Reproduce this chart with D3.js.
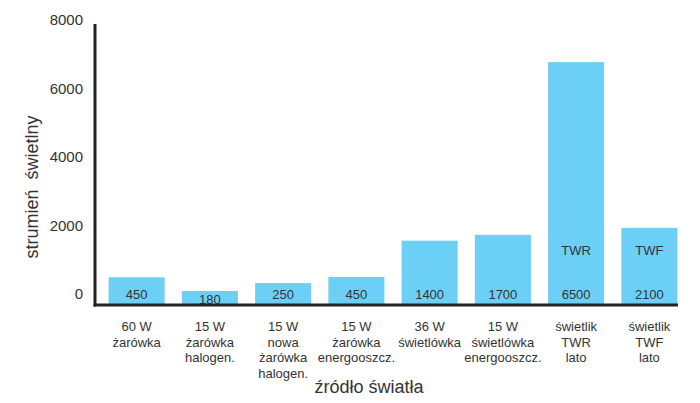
<!DOCTYPE html>
<html lang="pl">
<head>
<meta charset="utf-8">
<title>Strumień świetlny</title>
<style>
  body { margin: 0; background: #fff; }
  text { font-family: "Liberation Sans", Arial, sans-serif; fill: #333; }
  .tick text { font-size: 15px; }
  .axis-title { font-size: 18px; text-anchor: middle; }
  .cat { font-size: 13px; text-anchor: middle; }
  .val { font-size: 13px; text-anchor: middle; }
  .bar { fill: #6ccff6; }
</style>
</head>
<body>
<div id="chart"></div>
<script src="https://cdn.jsdelivr.net/npm/d3@7"></script>
<script>
// categories (multi-line labels)
var categories = [
  ["60 W", "żarówka"],
  ["15 W", "żarówka", "halogen."],
  ["15 W", "nowa", "żarówka", "halogen."],
  ["15 W", "żarówka", "energooszcz."],
  ["36 W", "świetlówka"],
  ["15 W", "świetlówka", "energooszcz."],
  ["świetlik", "TWR", "lato"],
  ["świetlik", "TWF", "lato"]
];
// bar heights as drawn in the picture
var barValues = [480, 80, 310, 490, 1550, 1720, 6770, 1925];
// numbers printed inside the bars
var valueLabels = ["450", "180", "250", "450", "1400", "1700", "6500", "2100"];
// extra names printed in the tall bars
var nameLabels = ["", "", "", "", "", "", "TWR", "TWF"];
var yTicks = [0, 2000, 4000, 6000, 8000];

var width = 700, height = 403;

var svg = d3.select("#chart").append("svg")
    .attr("width", width)
    .attr("height", height);

var x = d3.scaleBand()
    .domain(d3.range(categories.length))
    .range([100, 686])
    .paddingInner(0.235)
    .paddingOuter(0.1175);

var y = d3.scaleLinear()
    .domain([-330, 8000])
    .range([305, 20]);

// bars
svg.selectAll("rect.bar")
    .data(barValues)
    .enter()
    .append("rect")
    .attr("class", "bar")
    .attr("x", function(d, i) { return x(i); })
    .attr("width", x.bandwidth())
    .attr("y", function(d) { return y(d); })
    .attr("height", function(d) { return y(-330) - y(d); });

// value labels
svg.selectAll("text.val")
    .data(valueLabels)
    .enter()
    .append("text")
    .attr("class", "val")
    .attr("x", function(d, i) { return x(i) + x.bandwidth() / 2; })
    .attr("y", function(d, i) { return i === 1 ? y(0) + 10 : y(0) + 5; })
    .text(function(d) { return d; });

svg.selectAll("text.name")
    .data(nameLabels)
    .enter()
    .append("text")
    .attr("class", "val")
    .attr("x", function(d, i) { return x(i) + x.bandwidth() / 2; })
    .attr("y", y(0) - 39)
    .text(function(d) { return d; });

// y axis
var yAxis = d3.axisLeft(y).tickValues(yTicks).tickFormat(d3.format("d"))
    .tickSize(0).tickPadding(12);
var gy = svg.append("g")
    .attr("transform", "translate(95,0)")
    .call(yAxis);
gy.select(".domain").remove();

// axis lines
svg.append("line")
    .attr("x1", 95).attr("x2", 95)
    .attr("y1", y(7880)).attr("y2", y(-330) + 1.5)
    .style("stroke", "#222").style("stroke-width", 3);

svg.append("line")
    .attr("x1", 93.5).attr("x2", 678)
    .attr("y1", y(-330)).attr("y2", y(-330))
    .style("stroke", "#222").style("stroke-width", 3);

// category labels
var cats = svg.selectAll("text.cat")
    .data(categories)
    .enter()
    .append("text")
    .attr("class", "cat")
    .attr("y", 331);

cats.selectAll("tspan")
    .data(function(d, i) { return d.map(function(s) { return {s: s, i: i}; }); })
    .enter()
    .append("tspan")
    .attr("x", function(d) { return x(d.i) + x.bandwidth() / 2; })
    .attr("dy", function(d, j) { return j === 0 ? 0 : 15.5; })
    .text(function(d) { return d.s; });

// axis titles
svg.append("text")
    .attr("class", "axis-title")
    .attr("x", 369)
    .attr("y", 393)
    .text("źródło światła");

svg.append("text")
    .attr("class", "axis-title")
    .attr("transform", "rotate(-90)")
    .attr("x", -187)
    .attr("y", 38)
    .style("white-space", "pre")
    .text("strumień  świetlny");
</script>
</body>
</html>
